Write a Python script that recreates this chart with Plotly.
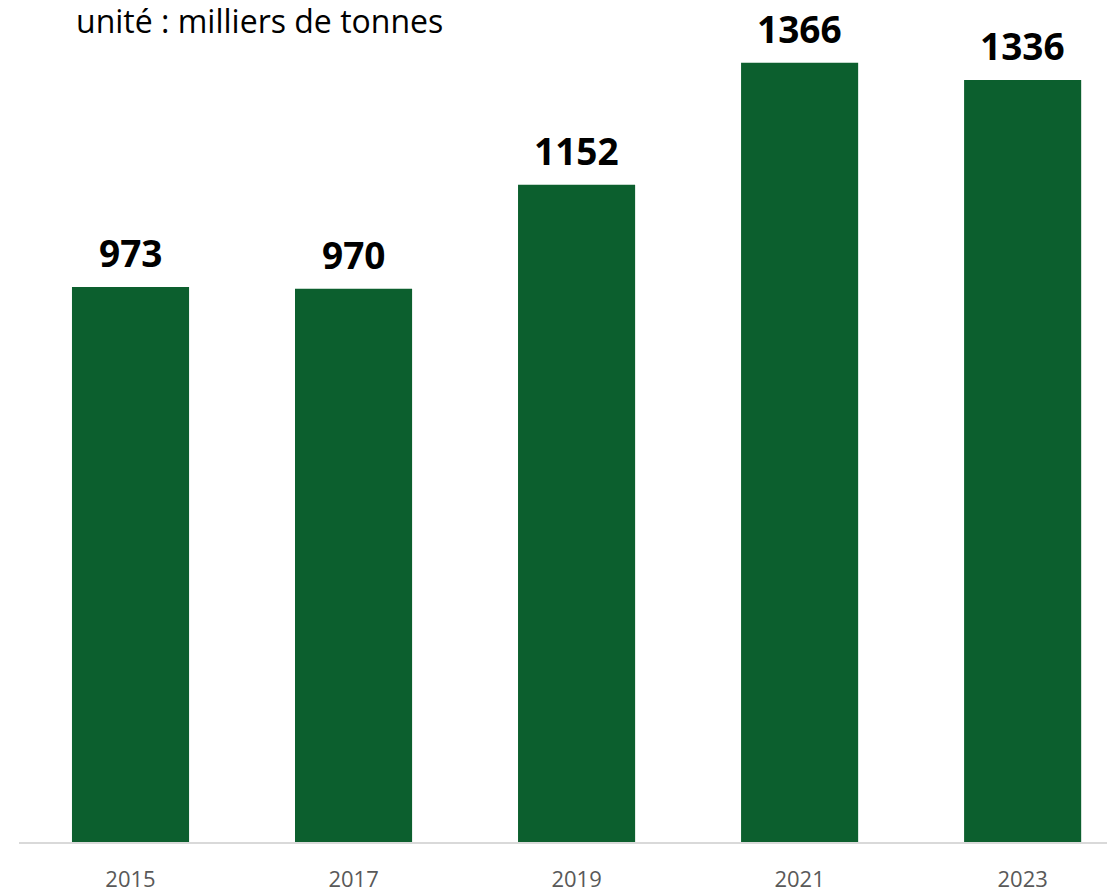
import plotly.graph_objects as go

years = ["2015", "2017", "2019", "2021", "2023"]
values = [973, 970, 1152, 1366, 1336]
labels = [str(v) for v in values]

fig = go.Figure(data=[go.Bar(
    x=years,
    y=values,
    marker=dict(color="#0c5f2e", line=dict(width=0)),
    cliponaxis=False,
    width=0.525,
)])

# value labels above bars (x by category index, so "2015" isn't read as a number)
for i, (v, lab) in enumerate(zip(values, labels)):
    fig.add_annotation(
        x=i, y=v, text=f"<b>{lab}</b>", showarrow=False,
        yanchor="middle", yshift=34,
        font=dict(family="Open Sans", size=37, color="black"),
    )

fig.add_annotation(
    text="unité : milliers de tonnes",
    xref="paper", yref="paper", x=(66 - 11) / 1104, y=(834 - 12) / 834,
    xanchor="left", yanchor="middle", showarrow=False,
    font=dict(family="Open Sans", size=32, color="black"),
)

fig.update_layout(
    width=1115, height=888,
    margin=dict(l=11, r=0, t=0, b=54, autoexpand=False),
    plot_bgcolor="white", paper_bgcolor="white",
    showlegend=False,
)
fig.update_xaxes(
    type="category", range=[-0.5, 4.45],
    showline=True, linecolor="#d9d9d9", linewidth=2,
    ticks="outside", ticklen=17, tickcolor="rgba(0,0,0,0)",
    tickfont=dict(family="Open Sans", size=22, color="#595959"),
    showgrid=False, automargin=False,
)
fig.update_yaxes(range=[0, 1462], visible=False, showgrid=False)

fig.write_html("out.html")
